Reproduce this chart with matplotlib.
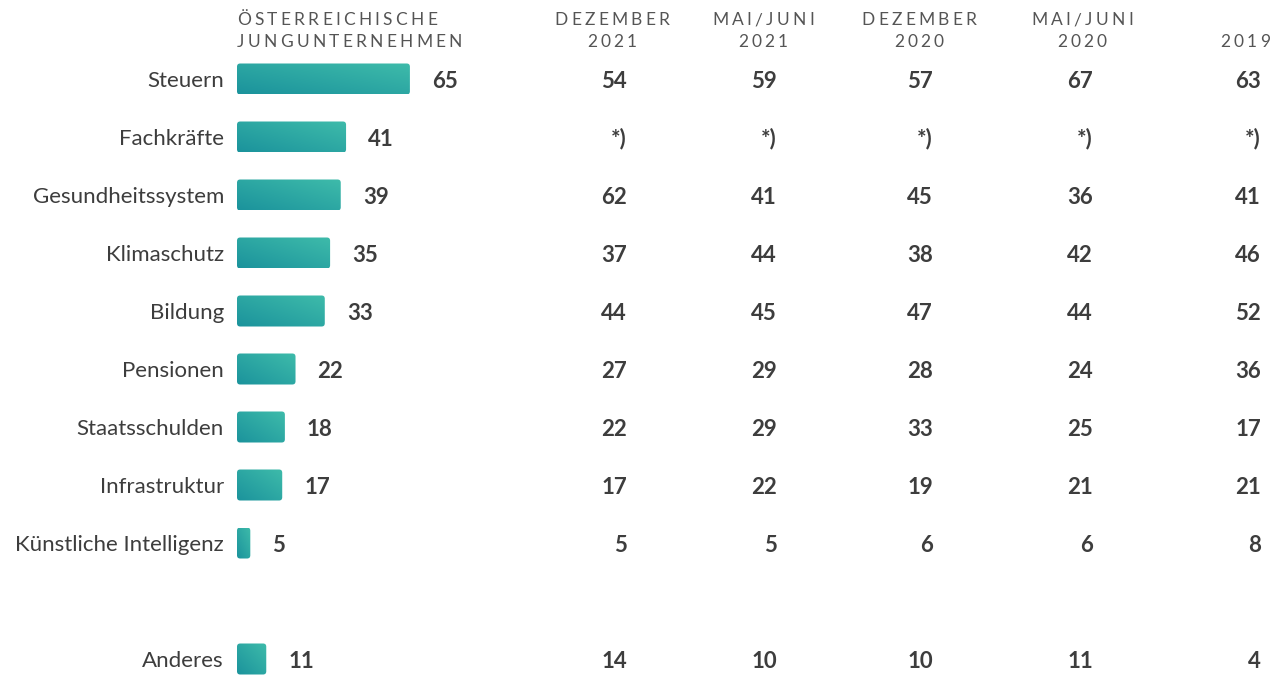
import matplotlib.pyplot as plt
import numpy as np
from matplotlib.patches import FancyBboxPatch
from matplotlib.transforms import blended_transform_factory
from matplotlib.colors import LinearSegmentedColormap

# Daten
kategorien = ["Steuern", "Fachkräfte", "Gesundheitssystem", "Klimaschutz", "Bildung",
              "Pensionen", "Staatsschulden", "Infrastruktur", "Künstliche Intelligenz", "Anderes"]
jung = [65, 41, 39, 35, 33, 22, 18, 17, 5, 11]
dez_2021 = [54, None, 62, 37, 44, 27, 22, 17, 5, 14]
mai_2021 = [59, None, 41, 44, 45, 29, 29, 22, 5, 10]
dez_2020 = [57, None, 45, 38, 47, 28, 33, 19, 6, 10]
mai_2020 = [67, None, 36, 42, 44, 24, 25, 21, 6, 11]
jahr_2019 = [63, None, 41, 46, 52, 36, 17, 21, 8, 4]
spalten = [dez_2021, mai_2021, dez_2020, mai_2020, jahr_2019]
spalten_titel = [("DEZEMBER", "2021"), ("MAI/JUNI", "2021"), ("DEZEMBER", "2020"),
                 ("MAI/JUNI", "2020"), ("", "2019")]
haupt_titel = ("ÖSTERREICHISCHE", "JUNGUNTERNEHMEN")

plt.rcParams['font.family'] = ['Lato', 'DejaVu Sans']

W, H = 1275, 676
fig = plt.figure(figsize=(W / 100, H / 100), dpi=100)
ax = fig.add_axes([0, 0, 1, 1])
ax.axis('off')

px_per_unit = 2.66   # Pixel pro Prozentpunkt
x0_px = 237          # Balkenanfang
row_px = 58
row0_px = 79
ax.set_xlim(-x0_px / px_per_unit, (W - x0_px) / px_per_unit)
ax.set_ylim((H - row0_px) / row_px, -row0_px / row_px)

# Zeilenpositionen, Lücke vor "Anderes"
pos = list(range(len(kategorien) - 1)) + [len(kategorien)]

text_col = '#3d3d3d'
fs = 16
dy = 2 / row_px   # kleine Korrektur der Textlage
cmap = LinearSegmentedColormap.from_list('teal', ['#1b939c', '#3ebbaa'])
bar_h_px = 31
bar_h = bar_h_px / row_px
grad = np.linspace(0, 1, 60)
gx, gy = np.meshgrid(grad, grad)

for name, val, y in zip(kategorien, jung, pos):
    patch = FancyBboxPatch((0, y - bar_h / 2), val, bar_h,
                           boxstyle='round,pad=0,rounding_size=1.2',
                           mutation_aspect=px_per_unit / row_px,
                           fc='none', ec='none')
    ax.add_patch(patch)
    # diagonaler Verlauf: links unten dunkel, rechts oben hell
    img = ax.imshow((gx + gy) / 2, cmap=cmap, origin='upper', aspect='auto',
                    extent=(0, val, y - bar_h / 2, y + bar_h / 2), interpolation='bilinear')
    img.set_clip_path(patch)
    ax.text(-13 / px_per_unit, y + dy, name, ha='right', va='center', fontsize=fs, color=text_col)
    ax.text(val + 22 / px_per_unit, y + dy, str(val), ha='left', va='center', fontsize=fs,
            fontweight='bold', color=text_col)

ax.set_xlim(-x0_px / px_per_unit, (W - x0_px) / px_per_unit)
ax.set_ylim((H - row0_px) / row_px, -row0_px / row_px)

# Spalten der Vergleichswerte
trans = blended_transform_factory(fig.transFigure, ax.transData)
rechts_px = [627, 777, 933, 1093, 1261]
for werte, xr in zip(spalten, rechts_px):
    for w, y in zip(werte, pos):
        ax.text(xr / W, y + dy, '*)' if w is None else str(w), transform=trans, ha='right',
                va='center', fontsize=fs, fontweight='bold', color=text_col)

# Kopfzeilen mit Sperrung
renderer = fig.canvas.get_renderer()
head_size = 12.5
spacing = 3.25


def spaced(text, x_px, y_px, align):
    widths = []
    for ch in text:
        t = fig.text(0, 0, ch, fontsize=head_size)
        widths.append(t.get_window_extent(renderer).width)
        t.remove()
    total = sum(widths) + spacing * (len(text) - 1)
    x = x_px if align == 'left' else x_px - total / 2
    for ch, w in zip(text, widths):
        fig.text(x / W, 1 - y_px / H, ch, fontsize=head_size, color='#555555',
                 ha='left', va='center')
        x += w + spacing


spaced(haupt_titel[0], 237, 20, 'left')
spaced(haupt_titel[1], 237, 42, 'left')
mitte_px = [612, 763, 919, 1082, 1245]
for (l1, l2), xc in zip(spalten_titel, mitte_px):
    if l1:
        spaced(l1, xc, 20, 'center')
    spaced(l2, xc, 42, 'center')

fig.savefig('out.png', dpi=100)
